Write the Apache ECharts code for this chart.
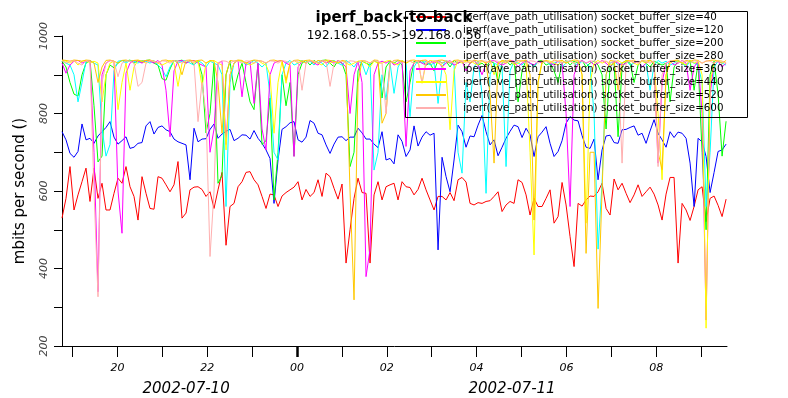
<!DOCTYPE html>
<html>
<head>
<meta charset="utf-8">
<script src="https://cdn.jsdelivr.net/npm/echarts@6/dist/echarts.min.js"></script>
<style>
  html, body { margin: 0; padding: 0; background: #fff; }
  #chart { width: 788px; height: 398px; }
</style>
</head>
<body>
<div id="chart"></div>
<script>
// time in hours relative to 2002-07-11 00:00, one sample every ~5.3 min
const xMin = -5.234;
const xMax = 9.577;
const sampleStart = -5.234;
const sampleStep = 0.0891;

const hourTicks = [-5, -4, -3, -2, -1, 0, 1, 2, 3, 4, 5, 6, 7, 8, 9];
const hourLabels = [-4, -2, 0, 2, 4, 6, 8];
const dayNames = ['2002-07-10', '2002-07-11'];
const dayLabelAt = [-2.47, 4.79];

const bufferSizes = [40, 120, 200, 280, 360, 440, 520, 600];
const lineColors = ['#ff0000', '#0000ff', '#00ff00', '#00ffff', '#ff00ff', '#ffff00', '#ffc800', '#ffafaf'];

const util40 = [
  530, 581, 663, 551, 590, 624, 659, 573, 659, 581, 620, 551, 551, 594, 633, 620, 663, 611, 586, 525,
  637, 594, 555, 553, 637, 633, 616, 598, 616, 676, 530, 543, 603, 610,
  611, 604, 586, 598, 555, 603, 648, 460, 560, 568, 611, 624, 648, 650, 629, 616, 586, 555, 592, 590,
  560, 587, 596, 603, 610, 624, 577, 604, 586, 596, 629, 586, 646,
  637, 607, 579, 618, 414, 500, 581, 633, 596, 594, 414, 590, 624, 577, 611, 616, 620, 577, 624, 611,
  609, 590, 604, 633, 603, 577, 551, 586, 586, 577, 596, 575, 629,
  635, 623, 568, 564, 570, 568, 573, 575, 586, 598, 547, 564, 573, 568, 629, 622, 590, 538, 581, 560,
  560, 581, 603, 517, 534, 622, 564, 482, 405, 568, 561, 577, 587, 586,
  598, 620, 555, 538, 631, 603, 620, 594, 570, 590, 616, 586, 598, 610, 592, 564, 525, 592, 635, 635,
  414, 568, 551, 524, 560, 603, 611, 521, 581, 587, 563, 534, 579
];
const util120 = [
  753, 732, 697, 687, 702, 773, 732, 736, 723, 742, 753, 764, 779, 739, 721, 730, 740, 710, 713, 723,
  725, 768, 779, 747, 764, 768, 758, 753, 734, 727, 723, 719, 629, 762,
  727, 734, 735, 759, 773, 736, 747, 754, 759, 730, 736, 745, 744, 734, 756, 736, 723, 706, 684, 568,
  680, 759, 766, 776, 779, 732, 726, 739, 782, 775, 749, 745, 719,
  697, 721, 739, 740, 730, 739, 739, 762, 750, 734, 734, 721, 712, 753, 680, 684, 670, 745, 728, 689,
  706, 768, 716, 739, 753, 744, 749, 448, 687, 637, 598, 680, 770,
  753, 713, 742, 740, 770, 795, 753, 719, 732, 691, 713, 736, 754, 770, 766, 738, 762, 745, 689, 740,
  752, 766, 723, 689, 702, 730, 775, 792, 783, 781, 743, 713, 710, 734,
  629, 706, 742, 744, 725, 723, 758, 759, 764, 768, 744, 749, 723, 755, 784, 749, 732, 713, 753, 738,
  752, 749, 736, 672, 560, 736, 727, 689, 596, 648, 702, 706, 721
];
const util200 = [
  935, 920, 880, 850, 845, 900, 930, 937, 820, 675,
  690, 900, 925, 918, 930, 937, 935, 938, 930, 937,
  932, 937, 938, 930, 925, 890, 886, 915, 937, 935,
  938, 930, 937, 925, 937, 900, 750, 800, 930, 620,
  640, 900, 935, 860, 900, 930, 880, 830, 810, 930,
  720, 730, 840, 577, 700, 900, 820, 880, 690, 900,
  930, 937, 925, 937, 930, 937, 938, 930, 920, 937,
  930, 900, 663, 700, 910, 935, 930, 925, 937, 930,
  840, 920, 935, 930, 937, 925, 830, 880, 935, 930,
  937, 925, 930, 910, 937, 930, 935, 920, 937, 930,
  935, 915, 930, 937, 925, 930, 920, 935, 930, 880,
  930, 937, 925, 935, 830, 910, 937, 930, 920, 935,
  937, 925, 930, 910, 880, 930, 937, 925, 935, 930,
  937, 920, 930, 935, 925, 900, 760, 920, 930, 740,
  920, 935, 930, 880, 925, 937, 930, 920, 935, 930,
  925, 930, 830, 920, 935, 930, 925, 937, 860, 930,
  700, 500, 900, 935, 850, 690, 780
];
const util280 = [
  937, 930, 925, 900, 830, 880, 935, 937, 930, 925,
  760, 690, 720, 910, 935, 937, 930, 937, 935, 930,
  937, 935, 930, 937, 925, 915, 895, 920, 937, 930,
  935, 937, 930, 925, 937, 930, 920, 935, 930, 925,
  900, 560, 880, 930, 937, 935, 925, 930, 937, 930,
  920, 930, 850, 700, 680, 900, 930, 937, 925, 930,
  937, 930, 935, 925, 937, 930, 920, 935, 937, 930,
  925, 937, 930, 920, 935, 930, 900, 930, 654, 700,
  900, 835, 930, 852, 920, 937, 930, 792, 920, 937,
  930, 935, 925, 930, 826, 920, 937, 930, 925, 700,
  646, 880, 830, 920, 935, 850, 594, 900, 930, 925,
  920, 663, 910, 935, 930, 925, 937, 930, 920, 935,
  930, 937, 925, 930, 935, 920, 930, 937, 930, 925,
  935, 930, 920, 800, 450, 620, 900, 930, 935, 925,
  930, 937, 925, 930, 935, 920, 930, 860, 925, 937,
  930, 935, 925, 930, 937, 930, 920, 935, 930, 925,
  880, 560, 700, 920, 935, 930, 925
];
const util360 = [
  930, 904, 925, 935, 937, 930, 935, 937, 700, 340,
  900, 930, 937, 935, 600, 491, 904, 930, 937, 935,
  930, 937, 935, 930, 937, 925, 860, 740, 910, 935,
  937, 930, 935, 937, 930, 925, 920, 700, 760, 930,
  935, 720, 900, 930, 937, 843, 930, 935, 826, 930,
  760, 706, 900, 930, 935, 937, 930, 925, 689, 920,
  935, 930, 937, 930, 925, 937, 930, 935, 930, 937,
  930, 920, 800, 900, 935, 880, 379, 450, 900, 930,
  935, 930, 937, 925, 930, 935, 715, 910, 930, 937,
  930, 925, 937, 930, 935, 920, 930, 937, 925, 930,
  935, 910, 930, 937, 925, 900, 930, 935, 937, 930,
  925, 930, 937, 935, 920, 930, 937, 930, 925, 935,
  930, 937, 930, 925, 935, 930, 800, 560, 900, 930,
  937, 930, 935, 925, 930, 937, 930, 920, 935, 930,
  925, 930, 937, 930, 935, 920, 930, 937, 930, 672,
  880, 930, 935, 925, 930, 937, 930, 860, 920, 935,
  800, 267, 850, 930, 935, 920, 930
];
const util440 = [
  937, 935, 930, 937, 925, 935, 937, 930, 935, 930,
  830, 900, 930, 935, 810, 880, 930, 860, 920, 937,
  935, 930, 937, 935, 930, 925, 930, 937, 930, 870,
  930, 937, 935, 930, 937, 870, 930, 935, 937, 930,
  925, 706, 900, 930, 937, 935, 930, 925, 930, 937,
  930, 925, 900, 749, 880, 935, 878, 930, 937, 930,
  935, 930, 937, 935, 930, 925, 937, 930, 935, 930,
  937, 930, 925, 930, 935, 937, 930, 920, 935, 930,
  930, 935, 937, 930, 925, 937, 930, 935, 930, 937,
  878, 930, 937, 935, 930, 925, 900, 758, 910, 937,
  930, 935, 937, 930, 925, 935, 930, 937, 900, 930,
  935, 930, 937, 925, 930, 937, 930, 700, 435, 880,
  930, 937, 935, 930, 925, 937, 930, 935, 930, 937,
  900, 517, 880, 930, 937, 930, 935, 925, 930, 937,
  930, 935, 937, 930, 925, 935, 930, 937, 930, 800,
  629, 900, 930, 937, 935, 930, 925, 937, 930, 935,
  900, 246, 880, 930, 937, 935, 930
];
const util520 = [
  938, 937, 935, 938, 937, 935, 938, 937, 930, 880,
  920, 937, 938, 935, 930, 937, 938, 935, 937, 938,
  935, 937, 938, 935, 930, 937, 938, 935, 937, 930,
  900, 937, 938, 935, 937, 938, 930, 937, 935, 880,
  749, 900, 937, 935, 938, 937, 930, 935, 938, 937,
  935, 930, 937, 938, 935, 937, 886, 930, 937, 938,
  935, 937, 938, 930, 937, 935, 938, 937, 935, 930,
  937, 935, 600, 319, 880, 937, 935, 930, 938, 937,
  775, 800, 930, 937, 938, 935, 930, 937, 938, 935,
  937, 938, 930, 935, 937, 938, 935, 930, 937, 938,
  935, 937, 930, 938, 935, 937, 930, 850, 672, 930,
  937, 935, 938, 930, 937, 935, 938, 900, 525, 880,
  935, 937, 930, 938, 935, 937, 930, 935, 938, 937,
  900, 439, 700, 700, 297, 600, 900, 937, 935, 860,
  930, 937, 935, 938, 930, 937, 935, 938, 930, 700,
  655, 900, 935, 937, 938, 930, 937, 935, 938, 937,
  930, 935, 937, 938, 935, 930, 937
];
const util600 = [
  936, 930, 935, 936, 930, 925, 936, 935, 600, 327,
  880, 930, 936, 935, 895, 930, 936, 935, 930, 870,
  880, 930, 936, 935, 930, 936, 935, 930, 936, 935,
  930, 936, 935, 930, 779, 880, 800, 431, 600, 930,
  936, 935, 930, 936, 935, 930, 936, 935, 930, 936,
  935, 930, 936, 935, 930, 936, 935, 930, 936, 935,
  860, 930, 936, 935, 930, 936, 935, 870, 930, 936,
  935, 930, 936, 935, 930, 936, 935, 930, 936, 935,
  930, 800, 930, 936, 935, 930, 936, 935, 930, 936,
  880, 935, 930, 936, 935, 930, 936, 935, 930, 936,
  935, 930, 936, 935, 930, 936, 935, 930, 936, 935,
  930, 936, 935, 930, 936, 935, 930, 936, 935, 930,
  936, 935, 930, 936, 935, 930, 936, 935, 930, 936,
  935, 930, 936, 935, 930, 936, 935, 930, 936, 935,
  672, 930, 936, 935, 930, 936, 935, 930, 936, 663,
  900, 930, 936, 935, 930, 936, 935, 930, 936, 935,
  930, 936, 935, 930, 936, 935, 930
];

const allValues = [util40, util120, util200, util280, util360, util440, util520, util600];

const chartInit = () => {
  const $chartEl = document.getElementById('chart');
  const chart = echarts.init($chartEl, null, { renderer: 'canvas' });
  const font = 'DejaVu Sans';
  const pad2 = v => String(((Math.round(v) % 24) + 24) % 24).padStart(2, '0');

  const series = allValues.map((vals, k) => ({
    name: `iperf(ave_path_utilisation) socket_buffer_size=${bufferSizes[k]}`,
    type: 'line',
    symbol: 'none',
    color: lineColors[k],
    lineStyle: { width: 1, color: lineColors[k] },
    data: vals.map((v, i) => [sampleStart + i * sampleStep, v])
  }));

  chart.setOption({
    animation: false,
    backgroundColor: '#fff',
    title: {
      text: 'iperf_back-to-back',
      subtext: '192.168.0.55->192.168.0.56',
      left: 'center',
      top: 6,
      itemGap: 4,
      textStyle: { fontFamily: font, fontSize: 15, fontWeight: 'bold', color: '#000' },
      subtextStyle: { fontFamily: font, fontSize: 12, color: '#000' }
    },
    graphic: [
      {
        type: 'rect',
        left: 403,
        top: 9,
        shape: { width: 342, height: 106 },
        style: { fill: 'none', stroke: '#000', lineWidth: 1 },
        z: 100
      }
    ],
    legend: {
      orient: 'vertical',
      left: 415,
      top: 12,
      padding: 0,
      itemWidth: 30,
      itemHeight: 10,
      itemGap: 3,
      itemStyle: { opacity: 0 },
      textStyle: { fontFamily: font, fontSize: 10.3, color: '#000', padding: [0, 0, 0, 12] },
      data: series.map(s => s.name)
    },
    grid: { left: 62, right: 61, top: 36, bottom: 52 },
    xAxis: [
      {
        type: 'value',
        min: xMin,
        max: xMax,
        splitLine: { show: false },
        axisLine: { onZero: false, lineStyle: { color: '#000', width: 1 } },
        axisTick: { customValues: hourTicks, length: 11, lineStyle: { color: '#000' } },
        axisLabel: {
          customValues: hourLabels,
          formatter: pad2,
          margin: 17,
          fontFamily: font,
          fontSize: 11,
          fontStyle: 'italic',
          color: '#000'
        }
      },
      {
        type: 'value',
        position: 'bottom',
        min: xMin,
        max: xMax,
        splitLine: { show: false },
        axisLine: { show: false, onZero: false },
        axisTick: { customValues: [0], length: 11, lineStyle: { color: '#000', width: 2.5 } },
        axisLabel: {
          customValues: dayLabelAt,
          formatter: v => (v < 0 ? dayNames[0] : dayNames[1]),
          margin: 36,
          fontFamily: font,
          fontSize: 15,
          fontStyle: 'italic',
          color: '#000'
        }
      }
    ],
    yAxis: {
      type: 'value',
      min: 200,
      max: 1000,
      interval: 100,
      name: 'mbits per second ()',
      nameLocation: 'middle',
      nameGap: 34,
      nameTextStyle: { fontFamily: font, fontSize: 15, color: '#000' },
      splitLine: { show: false },
      axisLine: { show: true, onZero: false, lineStyle: { color: '#000', width: 1 } },
      axisTick: { show: true, length: 8, lineStyle: { color: '#000' } },
      axisLabel: {
        rotate: 90,
        margin: 12,
        formatter: v => (v % 200 === 0 ? String(v) : ''),
        fontFamily: font,
        fontSize: 11,
        fontStyle: 'italic',
        color: '#444'
      }
    },
    series
  });
};

chartInit();
</script>
</body>
</html>
